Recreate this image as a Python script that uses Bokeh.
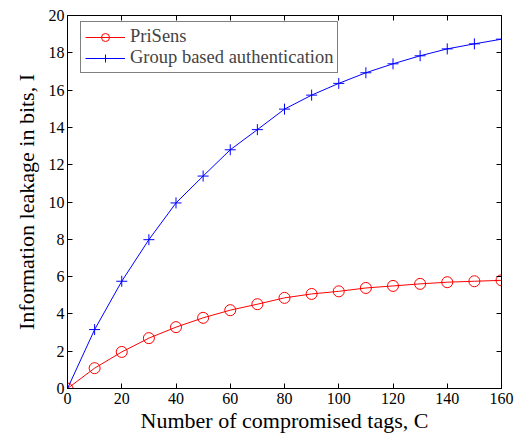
from bokeh.plotting import figure
from bokeh.models import (Range1d, LinearAxis, FixedTicker, Legend, LegendItem,
                          CustomLabelingPolicy)
from bokeh.embed import file_html
from bokeh.resources import INLINE

# Number of compromised tags
tags = [0, 10, 20, 30, 40, 50, 60, 70, 80, 90, 100, 110, 120, 130, 140, 150, 160]

# Information leakage (bits)
prisens = [0, 1.09, 1.96, 2.70, 3.29, 3.79, 4.20, 4.52, 4.86, 5.07, 5.21,
           5.39, 5.50, 5.61, 5.70, 5.75, 5.80]
group_auth = [0, 3.16, 5.75, 7.98, 9.95, 11.39, 12.80, 13.88, 14.98, 15.73, 16.36,
              16.93, 17.41, 17.84, 18.21, 18.48, 18.73]

x_ticks = [0, 20, 40, 60, 80, 100, 120, 140, 160]
y_ticks = [0, 2, 4, 6, 8, 10, 12, 14, 16, 18, 20]

FONT = "Liberation Serif"

p = figure(width=529, height=436, output_backend="svg", toolbar_location=None,
           x_range=Range1d(0, 160), y_range=Range1d(0, 20),
           min_border_left=67, min_border_right=28, min_border_top=15,
           min_border_bottom=48)
p.frame_width = 434
p.frame_height = 373
p.grid.visible = False
p.outline_line_color = "black"
p.outline_line_width = 1

# Box-style ticks: every side gets inward ticks, only left/bottom carry labels
no_labels = CustomLabelingPolicy(
    code="const a = [...indices]; for (const i of a) indices.unset(i); return indices")

def style_axis(ax, labels=True):
    ax.major_tick_in = 5
    ax.major_tick_out = 0
    ax.minor_tick_in = 0
    ax.minor_tick_out = 0
    ax.axis_line_color = "black"
    ax.major_tick_line_color = "black"
    ax.major_label_text_font = FONT
    ax.major_label_text_font_size = "16px"
    ax.major_label_text_color = "black"
    ax.axis_label_text_font = FONT
    ax.axis_label_text_font_size = "22px"
    ax.axis_label_text_font_style = "normal"
    ax.axis_label_text_color = "black"
    if not labels:
        ax.major_label_policy = no_labels
        ax.major_label_standoff = 0

xa = p.xaxis[0]
xa.ticker = FixedTicker(ticks=x_ticks)
xa.axis_label = "Number of compromised tags, C"
style_axis(xa)
xa.major_label_standoff = 4
xa.axis_label_standoff = 1

ya = p.yaxis[0]
ya.ticker = FixedTicker(ticks=y_ticks)
ya.axis_label = "Information leakage in bits, I"
style_axis(ya)
ya.major_label_standoff = 3
ya.axis_label_standoff = 7

top = LinearAxis(ticker=FixedTicker(ticks=x_ticks))
style_axis(top, labels=False)
p.add_layout(top, "above")
right = LinearAxis(ticker=FixedTicker(ticks=y_ticks))
style_axis(right, labels=False)
p.add_layout(right, "right")

r_line = p.line(tags, prisens, line_color="#ff0000", line_width=1)
r_mark = p.scatter(tags, prisens, marker="circle", size=11, fill_color=None,
                   line_color="#ff0000", line_width=1)
b_line = p.line(tags, group_auth, line_color="#0000ff", line_width=1)
b_mark = p.scatter(tags, group_auth, marker="cross", size=11,
                   line_color="#0000ff", line_width=1)

legend = Legend(items=[
    LegendItem(label="PriSens", renderers=[r_line, r_mark]),
    LegendItem(label="Group based authentication", renderers=[b_line, b_mark]),
], location=(13, 315))
legend.margin = 0
legend.padding = 4
legend.spacing = 0
legend.glyph_width = 40
legend.glyph_height = 20
legend.label_height = 20
legend.label_standoff = 5
legend.label_text_font = FONT
legend.label_text_font_size = "18.5px"
legend.border_line_color = "black"
legend.border_line_width = 1
legend.background_fill_color = "white"
legend.background_fill_alpha = 1
p.add_layout(legend)

open("out.html", "w").write(file_html(p, INLINE))
